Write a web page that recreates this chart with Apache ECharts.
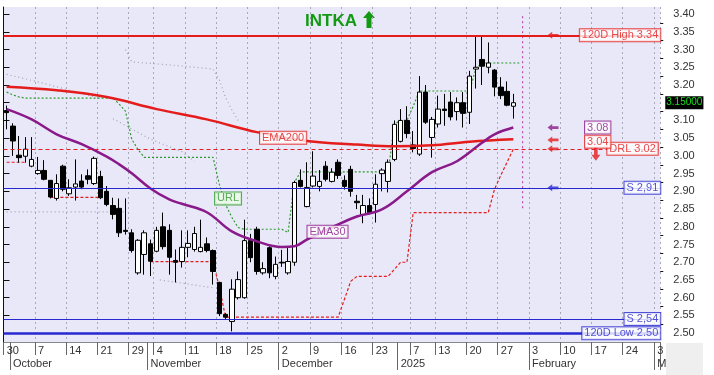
<!DOCTYPE html>
<html><head><meta charset="utf-8">
<script src="https://cdn.jsdelivr.net/npm/echarts@6/dist/echarts.min.js"></script>
<style>html,body{margin:0;padding:0;background:#fff}#c{width:714px;height:375px}</style>
</head><body><div id="c"></div>
<script>
// ---------- DATA ----------
const dates = [
'2024-09-30','2024-10-01','2024-10-02','2024-10-03','2024-10-04',
'2024-10-07','2024-10-08','2024-10-09','2024-10-10','2024-10-11',
'2024-10-14','2024-10-15','2024-10-16','2024-10-17','2024-10-18',
'2024-10-21','2024-10-22','2024-10-23','2024-10-24','2024-10-25',
'2024-10-29','2024-10-30','2024-10-31','2024-11-01',
'2024-11-04','2024-11-05','2024-11-06','2024-11-07','2024-11-08',
'2024-11-11','2024-11-12','2024-11-13','2024-11-14','2024-11-15',
'2024-11-18','2024-11-19','2024-11-20','2024-11-21','2024-11-22',
'2024-11-25','2024-11-26','2024-11-27','2024-11-28','2024-11-29',
'2024-12-02','2024-12-03','2024-12-04','2024-12-05','2024-12-06',
'2024-12-09','2024-12-10','2024-12-11','2024-12-12','2024-12-13',
'2024-12-16','2024-12-17','2024-12-18','2024-12-19','2024-12-20',
'2024-12-23','2024-12-24','2024-12-27','2024-12-30',
'2025-01-02','2025-01-03',
'2025-01-07','2025-01-08','2025-01-09','2025-01-10',
'2025-01-13','2025-01-14','2025-01-15','2025-01-16','2025-01-17',
'2025-01-20','2025-01-21','2025-01-22','2025-01-23','2025-01-24',
'2025-01-27','2025-01-28','2025-01-29','2025-01-30','2025-01-31',
'2025-02-03','2025-02-04','2025-02-05','2025-02-06','2025-02-07',
'2025-02-10','2025-02-11','2025-02-12','2025-02-13','2025-02-14',
'2025-02-17','2025-02-18','2025-02-19','2025-02-20','2025-02-21',
'2025-02-24','2025-02-25','2025-02-26','2025-02-27','2025-02-28',
'2025-03-03'];
// tick labels
const weekLabelDates = ['2024-09-30','2024-10-07','2024-10-14','2024-10-21','2024-10-29',
 '2024-11-04','2024-11-11','2024-11-18','2024-11-25','2024-12-02','2024-12-09','2024-12-16',
 '2024-12-23','2025-01-07','2025-01-13','2025-01-20','2025-01-27','2025-02-03','2025-02-10',
 '2025-02-17','2025-02-24','2025-03-03'];
const monthLabelDates = ['2024-10-01','2024-11-01','2024-12-02','2025-01-02','2025-02-03','2025-03-03'];
const monthLabels = ['October','November','December','2025','February','M'];

const opens = [3.128,3.084,3.002,2.999,2.971,2.950,2.959,2.931,2.880,2.971,
 2.893,2.912,2.929,2.944,2.922,2.942,2.900,2.860,2.852,2.790,
 2.783,2.670,2.722,2.752,2.731,2.800,2.790,2.705,2.702,2.742,
 2.736,2.730,2.752,2.733,2.643,2.553,2.533,2.600,2.600,2.761,
 2.793,2.670,2.741,2.660,2.700,2.670,2.700,2.931,2.857,2.915,
 2.914,2.971,2.928,2.982,2.931,2.962,2.872,2.835,2.860,2.863,
 2.950,2.928,2.990,3.041,3.100,3.031,3.005,3.180,3.052,3.090,
 3.132,3.152,3.125,3.150,3.123,3.245,3.272,3.250,3.242,3.194,
 3.182,3.140];
const closes = [3.122,3.042,2.995,3.019,2.990,2.959,2.934,2.884,2.922,2.906,
 2.910,2.921,2.912,2.934,2.993,2.882,2.863,2.835,2.783,2.787,
 2.733,2.762,2.783,2.703,2.790,2.744,2.714,2.700,2.742,2.753,
 2.781,2.742,2.733,2.674,2.555,2.545,2.624,2.651,2.761,2.713,
 2.674,2.682,2.670,2.694,2.698,2.702,2.925,2.914,2.911,2.943,
 2.928,2.934,2.954,2.945,2.914,2.900,2.868,2.860,2.840,2.920,
 2.960,2.982,3.089,3.100,3.063,3.021,3.180,3.095,3.103,3.132,
 3.128,3.110,3.150,3.120,3.225,3.250,3.253,3.262,3.194,3.170,
 3.143,3.150];
const lows = [3.075,3.000,2.981,2.981,2.968,2.947,2.931,2.880,2.874,2.900,
 2.887,2.874,2.906,2.920,2.918,2.878,2.858,2.821,2.771,2.778,
 2.727,2.665,2.665,2.661,2.728,2.736,2.665,2.643,2.685,2.714,
 2.730,2.728,2.728,2.637,2.548,2.540,2.505,2.595,2.597,2.700,
 2.665,2.665,2.655,2.652,2.687,2.665,2.690,2.911,2.855,2.911,
 2.900,2.928,2.925,2.935,2.905,2.885,2.850,2.810,2.835,2.812,
 2.900,2.897,2.985,3.038,3.050,3.010,3.000,3.090,2.995,3.080,
 3.085,3.100,3.100,3.080,3.090,3.190,3.200,3.233,3.168,3.160,
 3.140,3.105];
const highs = [3.142,3.092,3.056,3.053,3.053,2.997,2.988,2.932,2.948,2.975,
 2.934,2.990,2.948,2.962,2.998,2.958,2.915,2.882,2.880,2.880,
 2.793,2.765,2.790,2.764,2.800,2.840,2.807,2.736,2.790,2.790,
 2.800,2.820,2.770,2.736,2.645,2.557,2.652,2.674,2.820,2.780,
 2.800,2.700,2.745,2.716,2.735,2.740,2.930,2.962,2.982,3.013,
 2.960,2.985,2.965,2.990,2.945,2.972,2.890,2.890,2.880,2.948,
 2.965,2.990,3.100,3.132,3.140,3.070,3.225,3.200,3.110,3.170,
 3.175,3.180,3.165,3.180,3.240,3.340,3.340,3.320,3.245,3.222,
 3.210,3.175];

const ema200Idx = [0,8,16,24,32,40,48,56,62,68,74,81];
const ema200Val = [3.195,3.185,3.166,3.132,3.103,3.067,3.042,3.032,3.027,3.030,3.040,3.047];
const ema30Idx = [0,4,8,12,16,18,20,23,26,28,32,36,40,44,46,48,52,56,60,64,68,72,76,78,81];
const ema30Val = [3.132,3.103,3.061,3.033,2.998,2.976,2.951,2.908,2.877,2.865,2.841,2.787,2.759,2.743,2.745,2.764,2.798,2.829,2.849,2.900,2.954,2.985,3.037,3.061,3.080];

const stopVals = [2.982,2.982,2.982,2.982,null,null,null,2.883,2.883,2.883,
 2.883,2.883,2.883,2.883,2.883,2.883,null,null,null,null,
 null,null,null,2.702,2.702,2.702,2.702,2.702,2.702,2.702,
 2.702,2.702,2.702,2.702,2.630,2.545,2.545,2.545,2.545,2.545,
 2.545,2.545,2.545,2.545,2.545,2.545,2.545,2.545,2.545,2.545,
 2.545,2.545,2.545,2.545,2.595,2.646,2.660,2.660,2.660,2.660,
 2.660,2.660,2.680,2.700,2.700,2.840,2.840,2.840,2.840,2.840,
 2.840,2.840,2.840,2.840,2.840,2.840,2.840,2.840,2.906,2.945,
 2.982,3.019];
const urlVals = [3.180,3.172,3.166,3.163,3.163,3.163,3.163,3.163,3.163,3.163,
 3.163,3.163,3.163,3.163,3.163,3.163,3.163,3.163,3.146,3.126,
 3.047,3.018,2.996,2.996,2.996,2.996,2.996,2.996,2.996,2.996,
 2.996,2.996,2.996,2.996,2.920,2.863,2.827,2.798,2.793,2.793,
 2.793,2.793,2.793,2.793,2.793,2.784,2.925,2.955,2.955,2.955,
 2.955,2.955,2.955,2.955,2.955,2.955,2.955,2.955,2.955,2.955,
 2.955,2.955,3.090,3.100,3.100,3.140,3.183,3.183,3.183,3.183,
 3.183,3.183,3.183,3.183,3.183,3.245,3.262,3.262,3.262,3.262,
 3.262,3.262,3.262];
// faint grey dotted channel pieces: [day, price]
const greyA = [[0.5,3.230],[4.5,3.213],[8.5,3.195],[12.5,3.176],[14.5,3.166]];
const greyB = [[19.5,3.300],[20.5,3.265],[27,3.256],[33.5,3.245],[34.5,3.215],[35.5,3.165],[36.5,3.130],[37.5,3.100]];
const greyC = [[17.5,3.105],[23.5,3.047],[28.5,3.012],[30.5,2.985]];
const greyD = [[0.5,2.842],[19.5,2.842]];
const greyE = [[25,2.650],[33.5,2.628]];

const levelNames = ['120D High 3.34','S 2,91','S 2,54','120D Low 2.50','DRL 3.02'];
const levelValues = [3.34, 2.91, 2.54, 2.50, 3.02];
const lastPrice = 3.15;
const tagTexts = ['3.08','3.04'];
const tagValues = [3.08, 3.04];
const arrowValues = [3.34, 3.08, 3.045, 3.02, 2.91];
const curveNames = ['EMA200','EMA30','URL'];
const curveLabelPos = [[44.7, 3.051],[51.8, 2.786],[35.9, 2.880]];
const markerDay = 83;
const markerRange = [3.394, 2.849];
const yTickLabels = [2.50,2.55,2.60,2.65,2.70,2.75,2.80,2.85,2.90,2.95,3.00,3.05,3.10,3.20,3.25,3.30,3.35,3.40];
const yTicks = [2.50,2.55,2.60,2.65,2.70,2.75,2.80,2.85,2.90,2.95,3.00,3.05,3.10,3.15,3.20,3.25,3.30,3.35,3.40];
const yMinorTicks = [2.525,2.575,2.625,2.675,2.725,2.775,2.825,2.875,2.925,2.975,3.025,3.075,3.125,3.175,3.225,3.275,3.325,3.375];

// ---------- STYLES ----------
const RED = '#e41c1c', BLUE = '#2828d0', PURPLE = '#8a1a8a', GREEN = '#2d9a2d', GREY = '#a2a2b4';
const FONT = 'Liberation Sans, Arial, sans-serif';
const levelColors = [RED, BLUE, BLUE, BLUE, RED];
const levelWidths = [2, 1, 1, 2.5, 1];
const levelTypes = ['solid','solid','solid','solid',[4,3]];
const levelX = [105, 105, 105, 105, 104.6];
const tagColors = [PURPLE, RED];
const arrowColors = [RED, PURPLE, RED, RED, BLUE];
const curveColors = [RED, PURPLE, GREEN];

const isWeekStart = dates.map(d => weekLabelDates.includes(d));
const isMonthStart = dates.map(d => monthLabelDates.includes(d));

const candles = opens.map((o, i) => [o, closes[i], lows[i], highs[i]]);
const N = dates.length;
const catW = 6.255;

function greyLine(name, pts) {
  return { name, type: 'line', xAxisIndex: 2, data: pts, symbol: 'none', silent: true,
    lineStyle: { color: GREY, width: 1.2, type: [1,3] }, z: 1 };
}

const chart = echarts.init(document.getElementById('c'));
chart.setOption({
  animation: false,
  backgroundColor: '#fff',
  textStyle: { fontFamily: FONT },
  title: { text: 'INTKA', left: 300, top: 8, textStyle: { fontSize: 17, fontWeight: 'bold', color: '#139a13', fontFamily: FONT } },
  graphic: [
    { type: 'polygon', left: 363, top: 11, shape: { points: [[6,0],[12,7],[8.5,7],[8.5,17],[3.5,17],[3.5,7],[0,7]] }, style: { fill: '#139a13' } },
    { type: 'rect', left: 666, top: 343, z: -10, shape: { width: 37, height: 32 }, style: { fill: '#efefef' } }
  ],
  grid: { left: 3.5, top: 7, width: N * catW, bottom: 33, show: true, backgroundColor: '#e8e8f8', borderWidth: 0, outerBoundsMode: 'none' },
  xAxis: [
    { type: 'category', data: dates, boundaryGap: true,
      axisLine: { show: true, lineStyle: { color: '#888', width: 1 } },
      axisTick: { show: true, interval: (i) => isWeekStart[i], length: 13, lineStyle: { color: '#666' } },
      axisLabel: { interval: (i) => isWeekStart[i], hideOverlap: false, formatter: (v) => String(parseInt(v.slice(8), 10)), align: 'left', margin: 3, fontSize: 11, color: '#333', fontFamily: FONT },
      splitLine: { show: true, interval: (i) => isWeekStart[i], lineStyle: { color: '#a8a8b8', type: [2,3], width: 1 } } },
    { type: 'category', data: dates, boundaryGap: true, position: 'bottom',
      axisLine: { show: false },
      axisTick: { show: true, interval: (i) => isMonthStart[i], length: 28, lineStyle: { color: '#666' } },
      axisLabel: { interval: (i) => isMonthStart[i], hideOverlap: false, formatter: (v) => monthLabels[monthLabelDates.indexOf(v)] || '', align: 'left', margin: 16, fontSize: 11, color: '#333', fontFamily: FONT },
      splitLine: { show: false } },
    { type: 'value', min: 0, max: N, show: false }
  ],
  yAxis: [
    { type: 'value', position: 'right', min: 2.475, max: 3.42, scale: true,
      splitLine: { show: false },
      axisLine: { show: true, lineStyle: { color: '#111' } },
      axisTick: { show: true, customValues: yTicks, length: 6, lineStyle: { color: '#111' } },
      axisLabel: { customValues: yTickLabels, formatter: (v) => v.toFixed(2), margin: 13, fontSize: 11, color: '#333', fontFamily: FONT } },
    { type: 'value', position: 'right', min: 2.475, max: 3.42, scale: true,
      splitLine: { show: false }, axisLine: { show: false },
      axisTick: { show: true, customValues: yMinorTicks, length: 3, lineStyle: { color: '#111' } },
      axisLabel: { show: false } }
  ],
  series: [
    greyLine('gA', greyA), greyLine('gB', greyB), greyLine('gC', greyC), greyLine('gD', greyD), greyLine('gE', greyE),
    { name: 'URL', type: 'line', xAxisIndex: 0, data: urlVals, symbol: 'none', connectNulls: false,
      lineStyle: { color: GREEN, width: 1.2, type: [2,2] }, z: 2 },
    { name: 'stop', type: 'line', xAxisIndex: 0, data: stopVals, symbol: 'none', connectNulls: false,
      lineStyle: { color: RED, width: 1.2, type: [3,2] }, z: 2 },
    { name: 'price', type: 'candlestick', xAxisIndex: 0, data: candles, barWidth: 5,
      itemStyle: { color: '#ffffff', color0: '#000000', borderColor: '#000000', borderColor0: '#000000', borderWidth: 1 },
      z: 3,
      markLine: { symbol: 'none', silent: true, animation: false,
        data: levelValues.map((v, i) => ({ yAxis: v, lineStyle: { color: levelColors[i], width: levelWidths[i], type: levelTypes[i] }, label: { show: false } })) } },
    { name: 'last', type: 'line', xAxisIndex: 0, data: [], symbol: 'none', z: 8,
      markLine: { symbol: 'none', silent: true, animation: false,
        data: [{ yAxis: lastPrice, lineStyle: { color: 'rgba(0,0,0,0)', width: 0.1 },
          label: { show: true, position: 'end', distance: 5, formatter: lastPrice.toFixed(5), backgroundColor: '#000', color: '#19e019', fontSize: 10, padding: [2,1,1,1], fontFamily: FONT } }] } },
    { name: 'EMA200', type: 'line', xAxisIndex: 2, data: ema200Idx.map((d, i) => [d + 0.5, ema200Val[i]]), symbol: 'none', smooth: 0.4,
      lineStyle: { color: RED, width: 2.5 }, z: 4 },
    { name: 'EMA30', type: 'line', xAxisIndex: 2, data: ema30Idx.map((d, i) => [d + 0.5, ema30Val[i]]), symbol: 'none', smooth: 0.4,
      lineStyle: { color: PURPLE, width: 2.5 }, z: 4 },
    { name: 'marker', type: 'line', xAxisIndex: 2, data: markerRange.map(v => [markerDay, v]), symbol: 'none',
      lineStyle: { color: '#b0309a', width: 1, type: [2,3] }, z: 2 },
    { name: 'arrows', type: 'scatter', xAxisIndex: 2, z: 6,
      symbol: 'path://M0,5L6,0L6,3L14,3L14,7L6,7L6,10Z', symbolSize: [11, 7],
      data: arrowValues.map((v, i) => ({ value: [87.85, v], itemStyle: { color: arrowColors[i] } })) },
    { name: 'down', type: 'scatter', xAxisIndex: 2, z: 6,
      symbol: 'path://M3,0L7,0L7,8L10,8L5,14L0,8L3,8Z', symbolSize: [9, 14],
      data: [{ value: [94.7, 3.006], itemStyle: { color: RED } }] },
    { name: 'levelLabels', type: 'scatter', xAxisIndex: 2, z: 7, symbolSize: 0,
      data: levelNames.map((t, i) => ({ value: [levelX[i], levelValues[i]],
        label: { show: true, position: 'left', distance: 0, formatter: t, color: levelColors[i], backgroundColor: '#fff', borderColor: levelColors[i], borderWidth: 1, padding: [1,2,0,2], fontSize: 11, fontFamily: FONT } })) },
    { name: 'tags', type: 'scatter', xAxisIndex: 2, z: 7, symbolSize: 0,
      data: tagTexts.map((t, i) => ({ value: [95, tagValues[i]],
        label: { show: true, position: 'inside', formatter: t, color: tagColors[i], backgroundColor: '#fff', borderColor: tagColors[i], borderWidth: 1, padding: [1,2,0,2], fontSize: 11, fontFamily: FONT } })) },
    { name: 'curveLabels', type: 'scatter', xAxisIndex: 2, z: 7, symbolSize: 0,
      data: curveNames.map((t, i) => ({ value: curveLabelPos[i],
        label: { show: true, position: 'inside', formatter: t, color: curveColors[i], backgroundColor: i === 2 ? '#eefbe8' : '#fff', borderColor: curveColors[i], borderWidth: 1, padding: [1,2,0,2], fontSize: 11, fontFamily: FONT } })) }
  ]
});
</script>
</body></html>
